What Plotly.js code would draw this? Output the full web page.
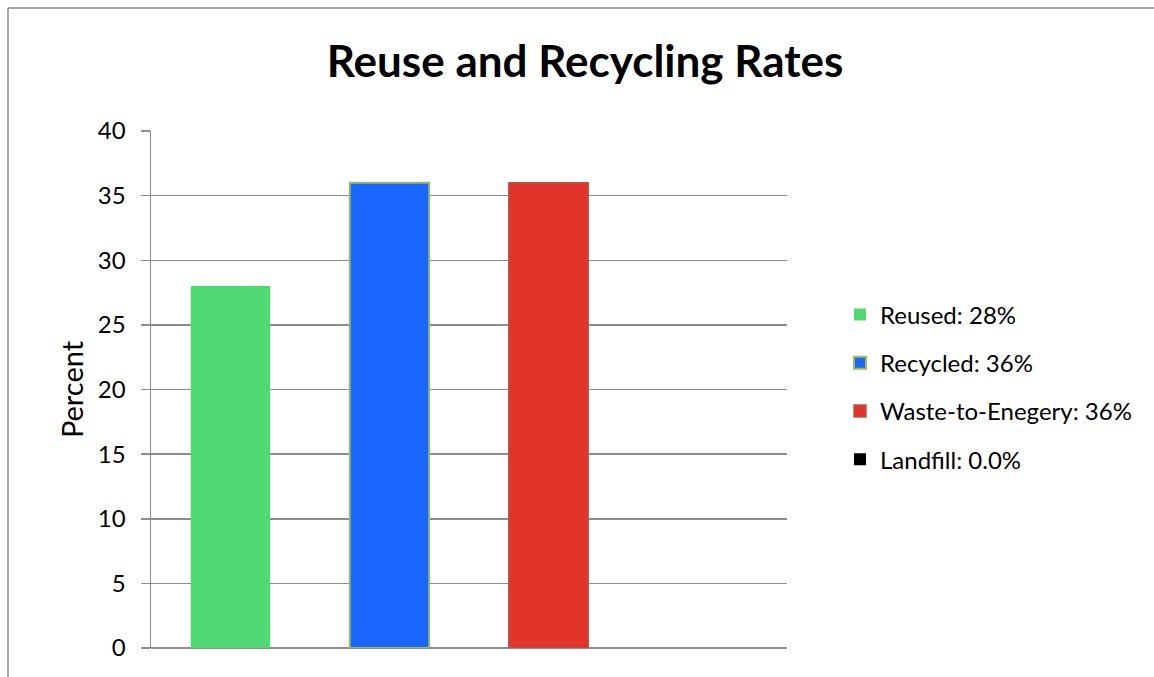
<!DOCTYPE html>
<html>
<head>
<meta charset="utf-8">
<script src="https://cdn.plot.ly/plotly-3.0.1.min.js"></script>
<style>
html,body{margin:0;padding:0;background:#fff;}
#chart{width:1154px;height:677px;}
</style>
</head>
<body>
<div id="chart"></div>
<script>
const categories = ["Reused", "Recycled", "Waste-to-Enegery", "Landfill"];
const values = [28, 36, 36, 0];
const legendLabels = ["Reused: 28%", "Recycled: 36%", "Waste-to-Enegery: 36%", "Landfill: 0.0%"];
const colors = ["#50d873", "#1967fe", "#e03528", "#000000"];
const outlineColors = ["#50d873", "#9bbb59", "#c0504d", "#000000"];
const outlineWidths = [0, 2, 1.5, 0];
const yTicks = [0, 5, 10, 15, 20, 25, 30, 35, 40];

const FONT = "Lato, 'Open Sans', sans-serif";

const traces = categories.map((c, i) => ({
  type: "bar",
  x: [c],
  y: [values[i]],
  name: legendLabels[i],
  legendgroup: "g" + i,
  marker: {color: colors[i], line: {color: outlineColors[i], width: outlineWidths[i]}},
  width: 0.5,
  hoverinfo: "skip"
}));

const L = 151, R = 787, T = 131, B = 648, W = 1154, H = 677;
const pw = R - L, ph = B - T;
const px = v => (v - L) / pw;
const py = v => (B - v) / ph;

const layout = {
  width: W, height: H,
  margin: {l: L, r: W - R, t: T, b: H - B, pad: 0},
  paper_bgcolor: "#fff", plot_bgcolor: "#fff",
  font: {family: FONT, color: "#000", size: 24},
  title: {text: "<b>Reuse and Recycling Rates</b>", font: {family: FONT, size: 44, color: "#000"},
          x: 585 / W, xanchor: "center", y: 1 - 62 / H, yanchor: "middle"},
  showlegend: true,
  legend: {x: px(840), xanchor: "left", y: py(387), yanchor: "middle",
           font: {family: FONT, size: 24, color: "#000"}, tracegroupgap: 14,
           bgcolor: "rgba(0,0,0,0)"},
  bargap: 0.5,
  xaxis: {type: "category", categoryorder: "array", categoryarray: categories,
          showticklabels: false, showgrid: false, zeroline: false,
          showline: false, ticks: "", fixedrange: true},
  yaxis: {range: [0, 40], tickvals: yTicks, ticktext: yTicks.map(String),
          showgrid: true, gridcolor: "#8c8c8c", gridwidth: 1.5,
          zeroline: true, zerolinecolor: "#8c8c8c", zerolinewidth: 1.5,
          showline: true, linecolor: "#8c8c8c", linewidth: 1.5,
          ticks: "outside", ticklen: 9, tickcolor: "#8c8c8c", tickwidth: 1.5,
          ticklabelstandoff: 10,
          tickfont: {family: FONT, size: 24, color: "#000"},
          title: {text: "Percent", font: {family: FONT, size: 29, color: "#000"}, standoff: 5}},
  shapes: [
    {type: "line", xref: "paper", yref: "paper", x0: px(8), x1: px(W + 5), y0: py(8), y1: py(8),
     line: {color: "#8a8a8a", width: 1.5}},
    {type: "line", xref: "paper", yref: "paper", x0: px(8), x1: px(8), y0: py(8), y1: py(H + 5),
     line: {color: "#8a8a8a", width: 1.5}}
  ]
};

Plotly.newPlot("chart", traces, layout, {displayModeBar: false, staticPlot: true});
</script>
</body>
</html>
